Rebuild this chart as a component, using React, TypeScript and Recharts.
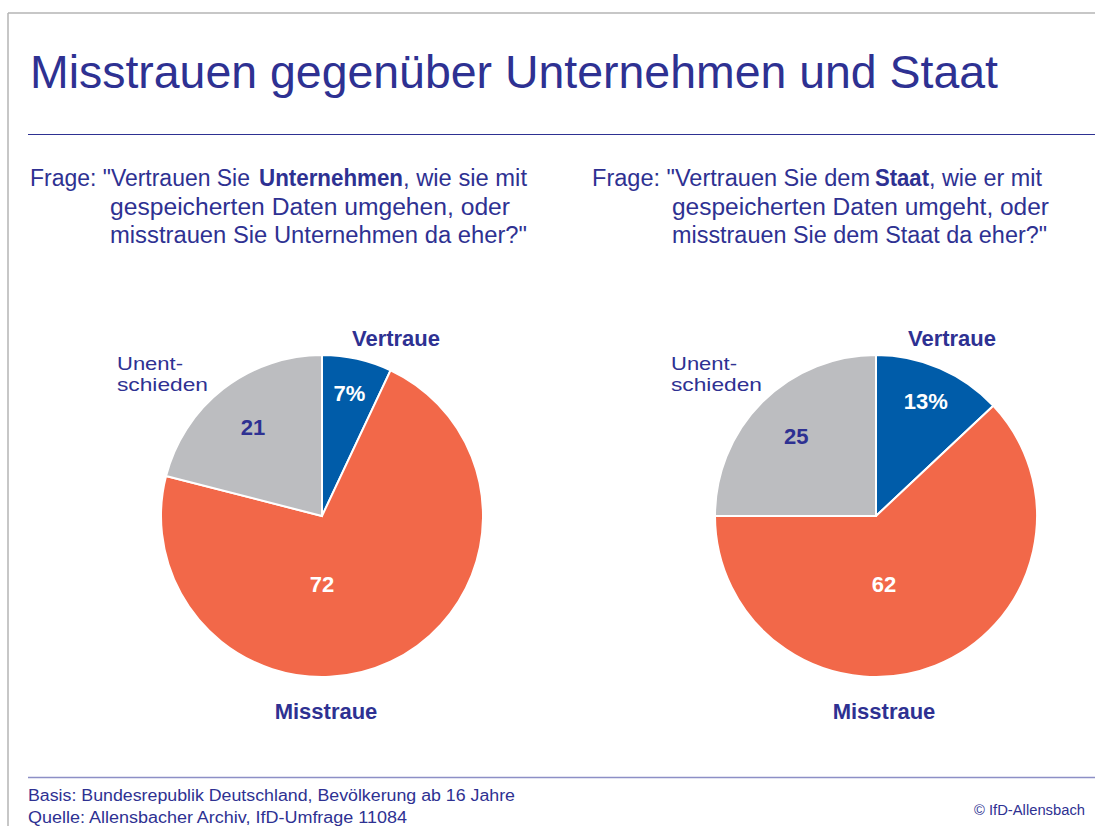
import React from "react";
import { PieChart, Pie, Cell } from "recharts";

// ---- data ----
const sliceNames = ["Vertraue", "Misstraue", "Unentschieden"];
const unternehmenValues = [7, 72, 21];
const staatValues = [13, 62, 25];

const titleText = "Misstrauen gegenüber Unternehmen und Staat";
const questionLeft = [
  ['Frage: "Vertrauen Sie ', "Unternehmen", ", wie sie mit"],
  ["gespeicherten Daten umgehen, oder"],
  ['misstrauen Sie Unternehmen da eher?"'],
];
const questionRight = [
  ['Frage: "Vertrauen Sie dem ', "Staat", ", wie er mit"],
  ["gespeicherten Daten umgeht, oder"],
  ['misstrauen Sie dem Staat da eher?"'],
];
const undecidedLines = ["Unent-", "schieden"];
const footerLines = [
  "Basis: Bundesrepublik Deutschland, Bevölkerung ab 16 Jahre",
  "Quelle: Allensbacher Archiv, IfD-Umfrage 11084",
];
const copyrightText = "© IfD-Allensbach";

// ---- style ----
const W = 1095;
const H = 826;
const FONT = "'Liberation Sans', Arial, sans-serif";
const NAVY = "#2e3192";
const sliceColors = ["#005ca9", "#f26849", "#bcbdc0"];
const valueColors = ["#ffffff", "#ffffff", NAVY];
const R = 161;
const charts = [
  { values: unternehmenValues, cx: 322, cy: 516, bigDx: 0, vDx: 74 },
  { values: staatValues, cx: 876, cy: 516, bigDx: 8, vDx: 76 },
];

const RAD = Math.PI / 180;

function makeLabel(values: number[], bigDx: number, vDx: number) {
  return (props: any) => {
    const { cx, cy, midAngle, index } = props;
    const v = values[index];
    const els: React.ReactNode[] = [];
    let x = 0;
    let y = 0;
    if (index === 1) {
      x = cx + bigDx;
      y = cy + 0.42 * R;
    } else {
      const rr = index === 0 ? 0.78 * R : 0.7 * R;
      x = cx + rr * Math.cos(-midAngle * RAD);
      y = cy + rr * Math.sin(-midAngle * RAD);
    }
    els.push(
      <text
        key="v"
        x={x}
        y={y + 8}
        textAnchor="middle"
        fill={valueColors[index]}
        fontFamily={FONT}
        fontWeight="bold"
        fontSize={22}
      >
        {index === 0 ? `${v}%` : `${v}`}
      </text>
    );
    if (index === 0) {
      els.push(
        <text key="n" x={cx + vDx} y={cy - 170} textAnchor="middle" fill={NAVY}
          fontFamily={FONT} fontWeight="bold" fontSize={22}>
          {sliceNames[0]}
        </text>
      );
    } else if (index === 1) {
      els.push(
        <text key="n" x={cx + 4 + bigDx / 2} y={cy + 203} textAnchor="middle" fill={NAVY}
          fontFamily={FONT} fontWeight="bold" fontSize={22}>
          {sliceNames[1]}
        </text>
      );
    } else {
      els.push(
        <text key="n1" x={cx - 205} y={cy - 146} fill={NAVY} fontFamily={FONT} fontSize={19}
          textLength={66} lengthAdjust="spacingAndGlyphs">
          {undecidedLines[0]}
        </text>
      );
      els.push(
        <text key="n2" x={cx - 205} y={cy - 125} fill={NAVY} fontFamily={FONT} fontSize={19}
          textLength={91} lengthAdjust="spacingAndGlyphs">
          {undecidedLines[1]}
        </text>
      );
    }
    return <g key={`lbl-${index}`}>{els}</g>;
  };
}

function T(p: {
  x: number; y: number; w: number; s: number; c?: string; b?: boolean; children: string;
}) {
  return (
    <text
      x={p.x}
      y={p.y}
      fontSize={p.s}
      fontFamily={FONT}
      fontWeight={p.b ? "bold" : "normal"}
      fill={p.c || NAVY}
      textLength={p.w}
      lengthAdjust="spacingAndGlyphs"
    >
      {p.children}
    </text>
  );
}

export default function App() {
  const qL = questionLeft;
  const qR = questionRight;
  return (
    <div style={{ position: "absolute", left: 0, top: 0, width: W, height: H, background: "#fff", overflow: "hidden" }}>
      <div style={{ position: "absolute", left: 0, top: 0 }}>
        <PieChart width={W} height={H} margin={{ top: 0, right: 0, bottom: 0, left: 0 }}>
          {charts.map((c, ci) => (
            <Pie
              key={ci}
              data={c.values.map((v, i) => ({ name: sliceNames[i], value: v }))}
              dataKey="value"
              nameKey="name"
              cx={c.cx}
              cy={c.cy}
              outerRadius={R}
              startAngle={90}
              endAngle={-270}
              stroke="#ffffff"
              strokeWidth={2}
              isAnimationActive={false}
              labelLine={false}
              label={makeLabel(c.values, c.bigDx, c.vDx)}
            >
              {c.values.map((_, i) => (
                <Cell key={i} fill={sliceColors[i]} />
              ))}
            </Pie>
          ))}
        </PieChart>
      </div>
      <svg width={W} height={H} style={{ position: "absolute", left: 0, top: 0, pointerEvents: "none" }}>
        <line x1={8} y1={13} x2={W} y2={13} stroke="#b4b4b4" strokeWidth={1.5} />
        <line x1={8} y1={13} x2={8} y2={H} stroke="#b4b4b4" strokeWidth={1.5} />
        <T x={30} y={88} w={968} s={46}>{titleText}</T>
        <line x1={28} y1={134.5} x2={W} y2={134.5} stroke={NAVY} strokeWidth={1.2} />

        <T x={30} y={186} w={220} s={23}>{qL[0][0]}</T>
        <T x={259} y={186} w={144} s={23} b>{qL[0][1]}</T>
        <T x={403} y={186} w={124} s={23}>{qL[0][2]}</T>
        <T x={110} y={215} w={400} s={23}>{qL[1][0]}</T>
        <T x={110} y={243} w={417} s={23}>{qL[2][0]}</T>

        <T x={592} y={186} w={278} s={23}>{qR[0][0]}</T>
        <T x={875} y={186} w={54} s={23} b>{qR[0][1]}</T>
        <T x={929} y={186} w={113} s={23}>{qR[0][2]}</T>
        <T x={672} y={215} w={377} s={23}>{qR[1][0]}</T>
        <T x={672} y={243} w={375} s={23}>{qR[2][0]}</T>

        <line x1={28} y1={777.5} x2={W} y2={777.5} stroke="#8d8fc6" strokeWidth={1.5} />
        <T x={28} y={801} w={487} s={16}>{footerLines[0]}</T>
        <T x={28} y={823} w={379} s={16}>{footerLines[1]}</T>
        <T x={974} y={815} w={111} s={14}>{copyrightText}</T>
      </svg>
    </div>
  );
}
